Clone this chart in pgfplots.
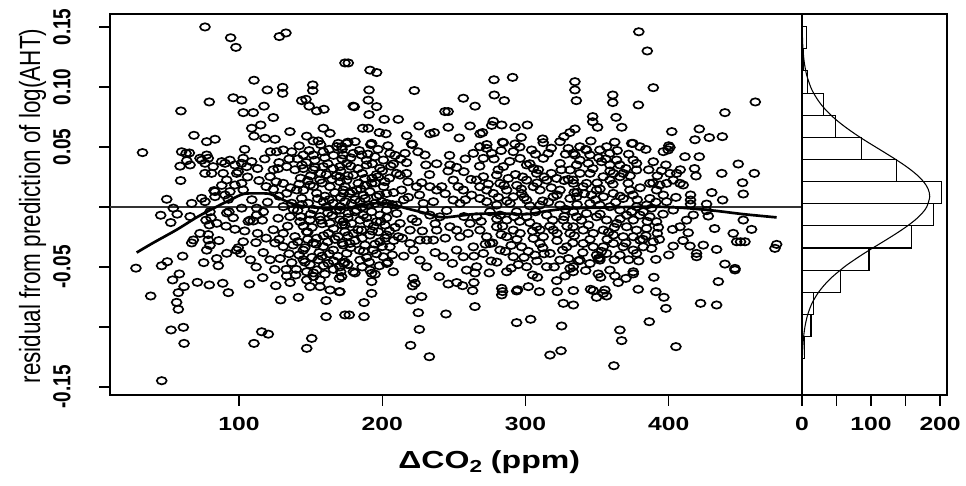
\documentclass[border=0pt]{standalone}
\usepackage{fontspec}
\setmainfont{Liberation Sans}
\newfontfamily\xfont{Liberation Sans}[FakeStretch=1.3]
\newfontfamily\yfont{Liberation Sans}[FakeStretch=0.77]
\usepackage{pgfplots}
\pgfplotsset{compat=1.18}
\pgfdeclareplotmark{ell}{%
  \pgfpathellipse{\pgfpointorigin}{\pgfpoint{3.7pt}{0pt}}{\pgfpoint{0pt}{2.75pt}}%
  \pgfusepathqstroke}
\begin{document}
\begin{tikzpicture}
\useasboundingbox (0,0) rectangle (724.5pt,363.75pt);
\begin{axis}[
  at={(82.5pt,67.5pt)}, anchor=south west,
  scale only axis, width=519pt, height=285.75pt,
  xmin=10, xmax=493, ymin=-0.1567, ymax=0.1608,
  axis line style={line width=2pt},
  tick style={line width=1pt, black},
  tick align=outside, major tick length=8pt,
  xtick pos=left, ytick pos=left,
  xtick={100,200,300,400}, xticklabels={100,200,300,400},
  ytick={-0.15,-0.10,-0.05,0,0.05,0.10,0.15},
  yticklabels={-0.15,,-0.05,,0.05,0.10,0.15},
  xticklabel style={font=\xfont\bfseries\fontsize{14.25}{15}\selectfont, anchor=center, yshift=-13.5pt},
  yticklabel style={font=\yfont\bfseries\fontsize{18.5}{19}\selectfont, anchor=center, xshift=-28.1pt, rotate=90},
  xlabel={\xfont\bfseries\fontsize{18.5}{20}\selectfont ΔCO\raisebox{-0.35ex}{\fontsize{13}{13}\selectfont 2} (ppm)},
  xlabel style={at={(axis description cs:0.548,-0.176)}, anchor=center},
  ylabel={\yfont\fontsize{21.9}{22}\selectfont residual from prediction of log(AHT)},
  ylabel style={at={(axis description cs:-0.112,0.496)}, anchor=center, rotate=0},
]
\addplot[only marks, mark=ell, mark options={line width=1.25pt, black}] coordinates {
(76.3,0.150) (94.2,0.141) (97.9,0.133) (128.2,0.142) (132.8,0.145) (174,0.120) (110.5,0.1056) (119.8,0.0975) (130.5,0.0997) (130.5,0.0947) (151.5,0.1017) (151.5,0.097) (79.3,0.0875) (96,0.091) (101.9,0.089) (59.5,0.080) (103,0.0786) (110,0.0786) (117.5,0.084) (124,0.0745) (143.8,0.0886) (146.8,0.0897) (149,0.084) (154.3,0.080) (159.3,0.0814) (108.9,0.0656) (115.2,0.0683) (135.6,0.0628) (158.9,0.0656) (163.5,0.0614) (68.6,0.0597) (77.5,0.0544) (83.3,0.0564) (110.5,0.059) (118.2,0.0572) (125.2,0.0564) (147.3,0.059) (151.9,0.055) (155.4,0.055) (169.3,0.053)
(176.3,0.120) (191.5,0.114) (196.1,0.112) (190.8,0.0975) (222.4,0.097) (190.3,0.089) (196.1,0.0836) (179.8,0.084) (180.5,0.0835) (190.8,0.077) (201.4,0.073) (211.2,0.073) (186.4,0.0656) (190.3,0.0656) (198,0.062) (202.6,0.061) (217.1,0.0594) (225.7,0.0675) (233.3,0.061) (236.3,0.062) (243.8,0.0795) (246,0.0795) (246.1,0.0664) (253.8,0.0575) (256.6,0.0906) (261.3,0.0675) (264.8,0.084) (268.3,0.061) (270,0.062) (276.4,0.068) (277.5,0.0714) (283.4,0.0683) (278,0.106) (291,0.108) (278.2,0.0933) (285.2,0.0886) (292.7,0.0664) (297,0.058) (301.3,0.0683) (312,0.0567) (326.9,0.0586) (331,0.062) (334.5,0.1044) (334.5,0.0975) (335.5,0.0886) (273,0.052) (284,0.054) (221,0.052) (176,0.054) (192,0.052)
(379.1,0.146) (385,0.130) (360.9,0.0933) (360.9,0.087) (378.8,0.085) (389.2,0.0994) (460.4,0.0875) (439.2,0.0786) (346.9,0.0753) (346.9,0.071) (350.3,0.0664) (334.5,0.065) (363.2,0.0747) (367.2,0.0664) (402.1,0.0628) (421.3,0.065) (418.3,0.056) (428.3,0.0578) (437.4,0.0586) (345.6,0.055) (362.3,0.054) (375,0.053) (400,0.051)
(58.4,-0.0558) (53.7,-0.0608) (61.7,-0.0664) (57.7,-0.0714) (71,-0.0628) (79.3,-0.065) (88.7,-0.0636) (92.6,-0.0714) (38.4,-0.0742) (56.5,-0.0795) (57.7,-0.0853) (52.6,-0.1025) (61.2,-0.1003) (61.7,-0.1137) (46.1,-0.1448) (107.3,-0.0642) (116.6,-0.0589) (125.7,-0.0656) (133.3,-0.0575) (139.6,-0.0567) (135.7,-0.063) (129.1,-0.0775) (141.5,-0.0753) (147.3,-0.0608) (149.6,-0.0664) (156.6,-0.0608) (156.6,-0.0664) (163.6,-0.0692) (170.1,-0.0706) (170.1,-0.0595) (160.8,-0.078) (160.8,-0.0914) (115.9,-0.104) (120.5,-0.106) (110.5,-0.1137) (150.8,-0.1095) (147.3,-0.1178) (174,-0.090) (152,-0.055)
(171.7,-0.058) (170.5,-0.0706) (181,-0.055) (192.6,-0.0553) (192.6,-0.0622) (192.6,-0.072) (187.3,-0.0797) (177,-0.090) (187.3,-0.0914) (221.7,-0.0595) (222.9,-0.0636) (221.2,-0.0658) (227.5,-0.0747) (220.1,-0.0775) (225.2,-0.0881) (225.9,-0.102) (219.8,-0.1153) (232.9,-0.1248) (239.8,-0.058) (244.5,-0.0892) (246.1,-0.0642) (252,-0.063) (256.1,-0.0656) (263.1,-0.0697) (264,-0.063) (264.7,-0.083) (264.7,-0.055) (274.7,-0.055) (283.4,-0.0678) (283.4,-0.0733) (284,-0.0705) (293.8,-0.070) (294.5,-0.069) (302,-0.0664) (309.7,-0.0706) (293.8,-0.0964) (303.6,-0.0936) (322.2,-0.0706) (326.4,-0.0803) (325.2,-0.0992) (317.1,-0.1234) (324.8,-0.1198) (305,-0.0567) (308.3,-0.0586) (321.8,-0.0614) (327.6,-0.0575) (333.4,-0.0697) (333.4,-0.0817)
(345.4,-0.0686) (347.3,-0.0697) (349.6,-0.0753) (354.3,-0.072) (356.6,-0.0742) (355.4,-0.0692) (350.8,-0.0558) (352.4,-0.0586) (362.4,-0.0575) (364.7,-0.063) (370.1,-0.0595) (375.2,-0.0558) (378.7,-0.0686) (389.6,-0.0586) (391,-0.0706) (396.6,-0.0753) (398,-0.0845) (386.4,-0.0956) (365.9,-0.1025) (367.1,-0.1114) (361.7,-0.1323) (405,-0.1164) (422.2,-0.0803) (433.4,-0.0817) (434.6,-0.0622) (446.2,-0.0525) (333.3,-0.054)
(32.7,0.0453) (59.3,0.022) (49.6,0.0064) (45.4,-0.0069) (52.4,-0.013) (28.1,-0.051) (46,-0.049) (50,-0.0456) (60.7,-0.041) (60,0.046) (63.1,0.0447) (65.4,0.045) (63.6,0.0386) (58.9,0.034) (65.9,0.035) (54.2,-0.001) (56.9,-0.006) (67,0.003) (65.9,-0.008) (74,0.0072) (76.3,0.0044) (79.8,-0.004) (83.3,0.0086) (82.6,0.0136) (77,-0.011) (79.3,-0.015) (80.5,-0.009) (68.2,-0.0275) (67,-0.030) (78.6,-0.023) (78.6,-0.0275) (79.8,-0.032) (77.5,-0.036) (72.8,-0.022) (84.5,-0.0136) (91.5,-0.005) (93,-0.004) (91,-0.016) (97.2,-0.0186) (84.5,-0.043) (85.6,-0.049) (75.4,-0.0464) (91.5,-0.0386) (99.5,-0.034) (101.2,-0.0386) (98.4,-0.036) (103,-0.029) (111.9,-0.0297) (107.7,-0.011) (106.5,-0.012) (110,-0.0117) (116.3,-0.011) (112.4,-0.001) (112.4,-0.0067) (101.9,-0.001) (93.7,0.0128) (97.2,0.0183) (101.9,0.0197) (103,0.0142) (99.5,0.0294) (89,0.028) (80.9,0.028) (76.3,0.028) (82,0.0336) (76.3,0.0364) (74,0.039) (78.6,0.0406) (77.5,0.0433) (72.8,0.0406) (88,0.0378) (90.3,0.0364) (93.7,0.039) (97.2,0.035) (101.9,0.0364) (103,0.0406) (108.9,0.0378) (105.4,0.0336) (98.4,0.028) (91.5,0.0225) (83.3,0.0128) (90.3,0.010) (92.6,0.0064)
(126.3,0.046) (130.9,0.0475) (136.8,0.046) (144.9,0.0433) (151.9,0.0433) (158.9,0.046) (168.2,0.0503) (171.7,0.0503) (124,0.031) (127.4,0.032) (133.3,0.0336) (139.1,0.031) (144.9,0.032) (151.9,0.031) (158.9,0.0336) (165.8,0.032) (170.5,0.0336) (121.7,0.0253) (130.9,0.0197) (124,0.0147) (133.3,0.0114) (140.3,0.0142) (149.6,0.0183) (156.6,0.0225) (163.5,0.0169) (170.5,0.0211) (172.8,0.0114) (154.3,0.0114) (143.8,0.0072) (136.8,0.0031) (148.4,0.0031) (158.9,0.0044) (165.8,0.0031) (170.5,0.0003) (130.9,0.0003) (127.4,-0.0094) (135.6,-0.008) (142.6,-0.0122) (149.6,-0.0108) (156.6,-0.008) (163.5,-0.0136) (170.5,-0.0108) (124,-0.019) (130.9,-0.022) (139.1,-0.0247) (147.3,-0.0206) (154.3,-0.026) (162.4,-0.022) (169.3,-0.0247) (125.2,-0.030) (130.9,-0.033) (137.9,-0.0317) (144.9,-0.036) (151.9,-0.030) (158.9,-0.033) (165.8,-0.036) (172.8,-0.0317) (121.7,-0.044) (128.7,-0.043) (136.8,-0.0464) (144.9,-0.044) (149.6,-0.048) (155.4,-0.044) (162.4,-0.047) (170.5,-0.05) (147.3,-0.054) (154.3,-0.0525)
(141,0.040) (147,0.037) (153,0.039) (160,0.041) (166,0.043) (172,0.040) (143,0.024) (150,0.026) (161,0.027) (168,0.026) (145,0.014) (152,0.017) (160,0.009) (167,0.012) (141,-0.003) (152,-0.002) (162,-0.005) (168,-0.003) (145,-0.016) (151,-0.017) (158,-0.014) (166,-0.018) (172,-0.015) (141,-0.029) (148,-0.027) (156,-0.038) (162,-0.029) (169,-0.041) (142,-0.040) (151,-0.042) (159,-0.049) (166,-0.045) (173,-0.047) (140,-0.052) (160,-0.056) (166,-0.052) (118,0.040) (135,0.040) (128,0.009) (120,0.004) (119,-0.026) (134,-0.016) (117,-0.038) (133,-0.052) (114,0.022) (119,0.017)
(175.2,0.053) (181,0.0544) (192.6,0.053) (220.5,0.0525) (284.5,0.0536) (292.7,0.0525) (312.4,0.0536) (272.9,0.0488) (268.2,0.0502) (304.3,0.0475) (329.9,0.0488) (324.1,0.0544) (172.8,0.0433) (179.8,0.0447) (185.6,0.0433) (194.9,0.0419) (200.8,0.0391) (205.4,0.0447) (207.7,0.0358) (215.9,0.0447) (217,0.0369) (229.8,0.0433) (230.5,0.035) (247.3,0.035) (251.9,0.033) (257,0.0294) (263.6,0.0447) (270.6,0.0405) (276.4,0.0447) (284.5,0.0336) (291.5,0.0461) (296.2,0.0405) (300.8,0.035) (305.5,0.0322) (312.4,0.0405) (315.9,0.0447) (324.1,0.0363) (331.1,0.0308) (333.4,0.0447) (175.2,0.0363) (189.1,0.035) (198.4,0.0322)
(170.5,0.0252) (175.2,0.0224) (179.8,0.0266) (183.3,0.0197) (188,0.0238) (192.6,0.0197) (197.3,0.0252) (201.9,0.0211) (172.8,0.0141) (177.5,0.0113) (182.1,0.0141) (186.8,0.0099) (191.4,0.0127) (196.1,0.0085) (203.1,0.0113) (174,0.0044) (178.6,0.003) (184.5,0.0044) (190.3,0.0016) (194.9,0.003) (199.6,0.0044) (212.4,0.0266) (217,0.028) (213.5,0.0141) (218.2,0.008) (224,0.0169) (227.5,0.0202) (233.3,0.0169) (238,0.0141) (241.5,0.0169) (249.6,0.0224) (253.1,0.0169) (256.6,0.0141) (249.6,0.0058) (254.3,0.003) (262.4,0.0099) (210.1,0.0016) (228.7,0.003) (235.7,0.0044)
(265.9,0.0224) (268.2,0.0169) (272.9,0.0141) (277.5,0.0113) (282.2,0.0197) (286.9,0.0141) (291.5,0.0085) (297.3,0.0113) (300.8,0.0058) (305.5,0.0169) (310.1,0.0141) (314.8,0.0224) (319.4,0.0085) (324.1,0.0141) (331.1,0.0071) (333.4,0.0197) (270.6,0.0252) (288,0.0238) (300.8,0.0224) (321.8,0.0238) (272.9,0.0044) (279.9,0.0016) (289.2,0.003) (310.1,0.0016) (324.1,0.0016) (268.2,0.0071) (279.9,0.0266) (307.8,0.028)
(170.5,-0.0026) (176.3,-0.0054) (182.1,-0.0026) (186.8,-0.0068) (192.6,-0.004) (198.4,-0.0068) (203.1,-0.0026) (172.8,-0.0123) (178.6,-0.0137) (184.5,-0.0109) (190.3,-0.0137) (196.1,-0.0123) (201.9,-0.0151) (174,-0.0207) (179.8,-0.022) (185.6,-0.0193) (191.4,-0.0234) (197.3,-0.0207) (203.1,-0.0234) (210.1,-0.0054) (212.4,-0.0137) (219.4,-0.0193) (228.7,-0.0026) (233.3,-0.0068) (240.3,-0.0082) (247.3,-0.0165) (251.9,-0.0193) (254.3,-0.0248) (261.3,-0.0137) (224,-0.0123) (238,-0.0193) (211.2,-0.0248)
(265.9,-0.0082) (268.2,-0.0193) (272.9,-0.0248) (279.9,-0.0165) (286.9,-0.0109) (291.5,-0.0193) (296.2,-0.022) (300.8,-0.0082) (307.8,-0.0165) (312.4,-0.0248) (319.4,-0.0193) (326.4,-0.0109) (331.1,-0.022) (275.2,-0.004) (282.2,-0.0068) (293.8,-0.004) (314.8,-0.0068) (333.4,-0.004) (305.5,-0.0262) (286.9,-0.0248)
(175.2,-0.0387) (184.5,-0.0443) (193.8,-0.0359) (200.8,-0.0415) (203.1,-0.0471) (177.5,-0.0304) (188,-0.0318) (198.4,-0.029) (219.4,-0.0304) (221.7,-0.0359) (226.3,-0.0276) (231,-0.0276) (235.7,-0.0276) (226.3,-0.0443) (231,-0.0499) (242.6,-0.0415) (251.9,-0.0359) (256.6,-0.0415) (258.9,-0.0526) (265.9,-0.0498) (270.6,-0.0387) (275.2,-0.0304) (282.2,-0.0359) (291.5,-0.0415) (300.8,-0.0498) (310.1,-0.0304) (317.1,-0.0387) (324.1,-0.0443) (331.1,-0.0512) (179.8,-0.054) (191.4,-0.0526) (207.7,-0.054) (286.9,-0.054) (314.8,-0.0498) (205.4,-0.0332) (263.6,-0.0332) (297.3,-0.0332) (306.6,-0.0401) (328.7,-0.0332)
(172,0.048) (178,0.034) (186,0.028) (193,0.036) (200,0.030) (205,0.024) (174,0.017) (181,0.006) (188,0.018) (195,0.020) (203,0.003) (176,-0.009) (183,-0.019) (189,-0.009) (199,-0.012) (205,-0.020) (172,-0.030) (181,-0.028) (187,-0.037) (195,-0.031) (202,-0.026) (174,-0.046) (184,-0.036) (191,-0.046) (198,-0.049) (207,-0.040)
(278,0.040) (289,0.038) (298,0.025) (309,0.031) (318,0.028) (327,0.022) (334,0.012) (281,0.008) (294,0.018) (303,0.001) (316,0.004) (328,-0.002) (284,-0.016) (296,-0.012) (305,-0.020) (319,-0.011) (329,-0.016) (277,-0.030) (290,-0.032) (302,-0.037) (312,-0.034) (322,-0.028) (333,-0.030) (280,-0.046) (295,-0.048) (308,-0.045) (320,-0.050) (330,-0.043)
(400.8,0.0497) (399.6,0.0475) (396.2,0.0461) (379.9,0.0502) (374.1,0.053) (375.2,0.0391) (377.5,0.0308) (377.5,0.0363) (389.2,0.0377) (395,0.0302) (400.8,0.028) (405.5,0.028) (403.1,0.0224) (407.8,0.0197) (410.1,0.0183) (398.5,0.0197) (393.8,0.0183) (386.8,0.0197) (391.5,0.0141) (396.2,0.0099) (398.5,0.0044) (403.1,-0.0026) (386.8,0.0071) (384.5,0.0016) (377.5,0.0002) (382.2,-0.004) (372.9,0.0141) (371.7,0.0197) (365.9,0.0252) (358.9,0.0224) (354.3,0.0252) (345,0.028) (338,0.028) (333.3,0.0224) (340.3,0.0169) (349.6,0.0141) (354.3,0.0085) (361.3,0.0113) (368.2,0.0071) (335.7,0.0085) (345,0.003) (351.9,0.0016) (358.9,0.0002) (365.9,-0.0026) (370.6,-0.0068) (375.2,-0.0109) (379.9,-0.0068) (386.8,-0.0082) (391.5,-0.0123) (384.5,-0.0179) (377.5,-0.0193) (370.6,-0.0165) (363.6,-0.0137) (356.6,-0.0109) (349.6,-0.0082) (342.6,-0.0054) (335.7,-0.0082) (333.3,-0.0165) (340.3,-0.0193) (347.3,-0.022) (354.3,-0.0193) (361.3,-0.0234) (368.2,-0.0248) (375.2,-0.0248) (379.9,-0.0276) (340.3,-0.0304) (347.3,-0.0332) (354.3,-0.0332) (361.3,-0.0304) (368.2,-0.0332) (375.2,-0.0359) (382.2,-0.0332) (377.5,-0.0387) (365.9,-0.0401) (356.6,-0.0387) (349.6,-0.0401) (351.9,-0.0443) (345,-0.0471) (338,-0.0443) (333.3,-0.0498) (358.9,-0.0526) (375.2,-0.054) (338,0.0502) (342.6,0.0475) (345,0.0433) (351.9,0.0475) (356.6,0.0502) (358.9,0.0447) (363.6,0.0391) (365.9,0.035) (358.9,0.035) (353.1,0.0377) (343.8,0.0363) (335.7,0.035) (334.5,0.0433) (361.3,0.028) (368.2,0.028) (342.6,0.0197) (350.8,-0.043) (352,-0.0425)
(336,0.012) (344,-0.015) (350,0.020) (357,-0.027) (363,0.004) (370,0.032) (372,-0.044) (380,0.016) (384,-0.024) (340,-0.038) (356,0.040) (366,-0.010) (346,0.010) (392,0.026) (388,-0.001)
(448.5,0.0358) (459.7,0.028) (451.5,0.0202) (452,0.0108) (437.6,0.0058) (426.4,0.0024) (426.4,-0.0031) (427.6,-0.0076) (452,-0.0109) (457.8,-0.0187) (445,-0.022) (447.4,-0.029) (450.1,-0.029) (453.2,-0.029) (475.3,-0.0312) (474.1,-0.0345) (433.4,-0.0354) (424.1,-0.0318) (439.2,-0.0476) (446.2,-0.0512) (419,0.0258) (411.3,0.0419) (421.3,0.0419) (415.2,0.010) (415.2,0.0058) (415.2,0.0024) (417.1,-0.0067) (412.4,-0.011) (413.6,-0.0215) (414.8,-0.0326) (419.4,-0.0387) (419.4,-0.0415) (402.7,-0.0187) (407.8,-0.0165) (403.1,-0.0326) (392.7,-0.017) (393.4,-0.027) (389.2,-0.029) (388,-0.0346) (391,-0.0437)
(142,0.051) (149,0.047) (157,0.052) (163,0.048) (178,0.041) (184,0.047) (190,0.044) (197,0.048) (204,0.051) (209,0.043) (144,0.035) (153,0.033) (162,0.036) (171,0.030) (183,0.032) (189,0.039) (196,0.027) (206,0.034) (210,0.028) (157,0.028) (142,0.019) (148,0.022) (158,0.020) (165,0.023) (176,0.026) (185,0.015) (193,0.024) (201,0.017) (208,0.012) (163,0.006) (144,0.002) (155,0.007) (171,0.008) (179,0.013) (188,0.007) (198,0.010) (207,0.002) (150,-0.006) (161,0.000) (186,0.000) (143,-0.008) (157,-0.011) (165,-0.007) (174,-0.015) (181,-0.004) (194,-0.016) (203,-0.009) (209,-0.017) (148,-0.021) (159,-0.024) (167,-0.027) (176,-0.024) (186,-0.026) (193,-0.020) (200,-0.033) (208,-0.028) (146,-0.034) (154,-0.031) (163,-0.039) (178,-0.034) (189,-0.042) (196,-0.039) (204,-0.046) (146,-0.046) (158,-0.041) (171,-0.054) (186,-0.050) (195,-0.056) (152,-0.058) (176,-0.048)
(283,0.047) (296,0.050) (307,0.044) (318,0.049) (328,0.044) (342,0.048) (351,0.041) (364,0.047) (372,0.044) (384,0.048) (281,0.031) (293,0.027) (303,0.036) (313,0.025) (325,0.031) (338,0.039) (347,0.032) (359,0.030) (373,0.026) (386,0.031) (285,0.018) (297,0.015) (308,0.020) (318,0.016) (330,0.023) (341,0.011) (352,0.015) (361,0.019) (375,0.010) (389,0.020) (287,0.005) (299,0.008) (312,0.005) (322,0.010) (336,0.002) (349,0.006) (366,0.009) (378,0.006) (391,0.004) (307,-0.004) (280,-0.010) (292,-0.008) (303,-0.013) (317,-0.016) (327,-0.008) (339,-0.011) (352,-0.006) (362,-0.017) (374,-0.004) (385,-0.012) (283,-0.023) (294,-0.027) (310,-0.019) (322,-0.022) (334,-0.024) (345,-0.027) (358,-0.021) (370,-0.030) (382,-0.027) (392,-0.022) (286,-0.037) (299,-0.042) (313,-0.039) (326,-0.036) (337,-0.045) (353,-0.037) (362,-0.044) (379,-0.045) (290,-0.051) (342,-0.053)
(213,0.040) (225,0.046) (238,0.036) (247,0.043) (258,0.040) (268,0.034) (218,0.021) (233,0.027) (246,0.030) (262,0.023) (274,0.019) (215,0.006) (226,0.010) (244,0.011) (258,0.006) (221,-0.010) (237,-0.014) (245,-0.003) (257,-0.008) (269,-0.012) (214,-0.026) (228,-0.020) (244,-0.026) (260,-0.022) (272,-0.031) (215,-0.041) (237,-0.038) (249,-0.047) (264,-0.041) (276,-0.045)
(104,0.048) (113,0.032) (122,0.046) (128,0.037) (106,0.025) (126,0.021) (136,0.016) (109,0.006) (117,-0.004) (138,-0.002) (104,-0.020) (113,-0.022) (128,-0.027) (135,-0.039) (108,-0.044) (125,-0.052) (112,-0.050) (96,-0.009) (88,0.018) (86,-0.028)
(398,0.035) (408,0.031) (396,-0.006) (405,0.008) (400,-0.040) (410,-0.028) (418,0.032) (430,0.012) (432,-0.018) (437,0.028)
};
\addplot[black!80, line width=0.9pt] coordinates {(10,0) (493,0)};
\addplot[black, line width=2pt, smooth] coordinates {
(28.6,-0.038) (40,-0.030) (56.5,-0.019) (70,-0.009) (79.8,-0.0026) (93.8,0.0058) (103.1,0.0108) (112.4,0.0113) (121.7,0.0108) (131,0.0058) (140.3,0.0016) (154.3,-0.0006) (172.9,-0.0012) (185,0.001) (200.8,0.0035) (217,-0.0012) (231,-0.0054) (242.6,-0.0087) (263.6,-0.006) (282.2,-0.0054) (300.8,-0.006) (317.1,-0.003) (333.4,-0.0012) (384.5,0.0002) (407.8,-0.0006) (431,-0.003) (452,-0.006) (475.3,-0.0087)};
\end{axis}
\begin{axis}[
  at={(601.5pt,67.5pt)}, anchor=south west,
  scale only axis, width=108.75pt, height=285.75pt,
  xmin=0, xmax=210, ymin=-0.1567, ymax=0.1608,
  axis line style={line width=2pt},
  tick style={line width=1pt, black},
  tick align=outside, major tick length=8pt,
  xtick pos=left, ytick=\empty,
  xtick={0,50,100,150,200}, xticklabels={0,,100,,200},
  xticklabel style={font=\xfont\bfseries\fontsize{14.25}{15}\selectfont, anchor=center, yshift=-13.5pt},
]
\addplot[xbar interval, fill=white, draw=black, line width=0.8pt] coordinates {
(1,-0.1449) (3,-0.1265) (13,-0.1080) (16,-0.0896) (56,-0.0711) (97,-0.0527) (158,-0.0342) (190,-0.0158) (202,0.0027) (137,0.0211) (86,0.0396) (48,0.0580) (31,0.0765) (8,0.0949) (2,0.1134) (6,0.1318) (0,0.1503)};
\addplot[black, line width=0.8pt, smooth] coordinates {
(0.05,-0.157) (0.38,-0.13) (0.9,-0.12) (2.0,-0.11) (4.2,-0.10) (8.1,-0.09) (14.7,-0.08) (25.3,-0.07) (40.6,-0.06) (61.2,-0.05) (73.4,-0.045) (86.4,-0.04) (100.2,-0.035) (114.5,-0.03) (128.6,-0.025) (142.1,-0.02) (154.6,-0.015) (165.5,-0.01) (174.3,-0.005) (180.6,0) (185,0.0086) (182.6,0.015) (177.4,0.02) (169.7,0.025) (159.6,0.03) (147.8,0.035) (134.6,0.04) (120.7,0.045) (106.5,0.05) (92.4,0.055) (79,0.06) (66.5,0.065) (55,0.07) (44.7,0.075) (35.8,0.08) (28.2,0.085) (21.9,0.09) (16.7,0.095) (12.5,0.10) (6.7,0.11) (3.4,0.12) (1.6,0.13) (0.7,0.14) (0.2,0.155) (0.1,0.161)};
\end{axis}
\end{tikzpicture}
\end{document}
